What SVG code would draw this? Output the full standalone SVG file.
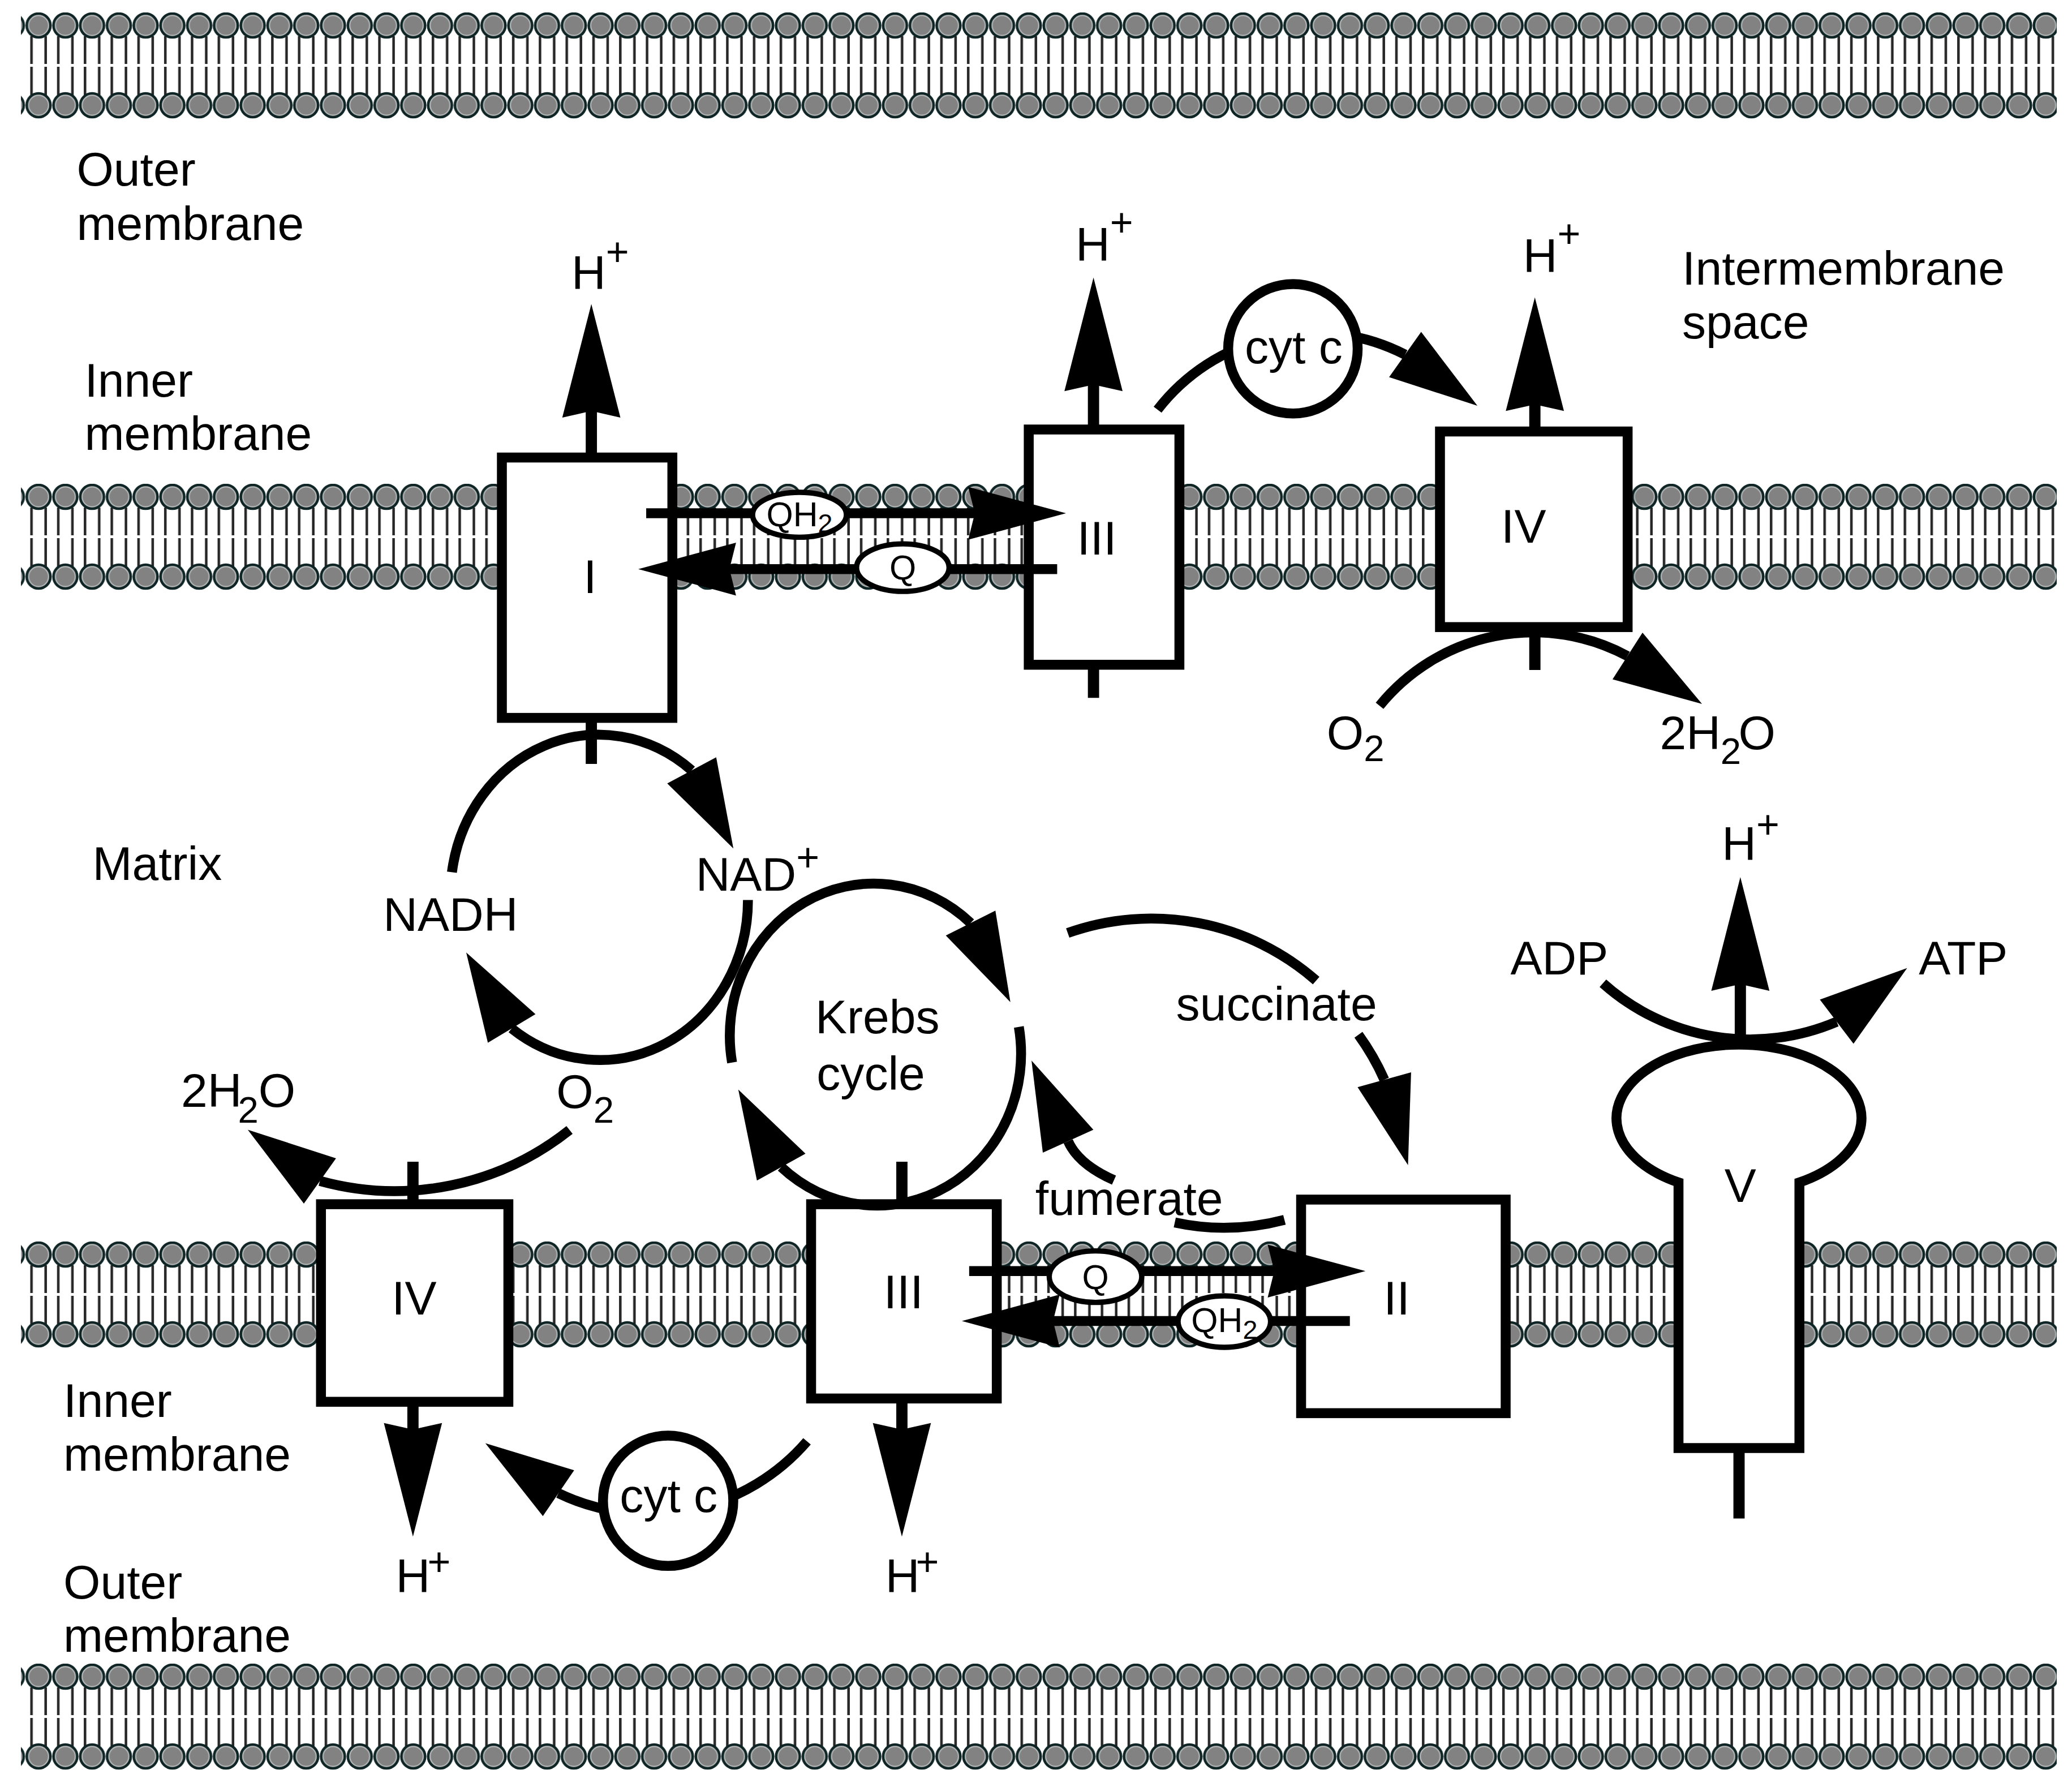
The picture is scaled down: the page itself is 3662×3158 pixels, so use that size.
<svg xmlns="http://www.w3.org/2000/svg" width="3662" height="3158" viewBox="0 0 3662 3158">
<defs>
<style>
.t{font-family:"Liberation Sans",Arial,sans-serif;font-size:36px;fill:#000}
.mid{text-anchor:middle}
.box{fill:#fff;stroke:#000;stroke-width:7.5}
.ln{fill:none;stroke:#000;stroke-width:7.5}
.stem{fill:none;stroke:#000;stroke-width:8.5}
.cyt{fill:#fff;stroke:#000;stroke-width:7.5}
.ell{fill:#fff;stroke:#000;stroke-width:4}
.hd{fill:#000}
.q{font-size:26px}
</style>
<pattern id="lipid" patternUnits="userSpaceOnUse" x="-2.75" y="0" width="47.3" height="200">
<g stroke="#262626" stroke-width="4.5">
<line x1="11.15" y1="42" x2="11.15" y2="91"/>
<line x1="36.15" y1="42" x2="36.15" y2="91"/>
<line x1="11.15" y1="96" x2="11.15" y2="146"/>
<line x1="36.15" y1="96" x2="36.15" y2="146"/>
</g>
<g fill="#828282" stroke="#0f2424" stroke-width="4.5">
<circle cx="23.65" cy="23" r="21"/>
<circle cx="23.65" cy="164" r="21"/>
</g>
<g fill="none" stroke="#b4b8b8" stroke-width="2">
<circle cx="23.65" cy="23" r="17.5"/>
<circle cx="23.65" cy="164" r="17.5"/>
</g>
</pattern>
<path id="hL" d="M0,0 L-86,-22 L-81,0 L-86,22 Z"/>
<path id="hM" d="M0,0 L-67,-21 L-67,21 Z"/>
<path id="hQ" d="M0,0 L-74,-20 L-69,0 L-74,20 Z"/>
</defs>
<rect x="0" y="0" width="3662" height="3158" fill="#fff"/>
<g id="membranes">
<rect x="37" y="0" width="3598" height="188" fill="url(#lipid)" transform="translate(0,22)"/>
<rect x="37" y="0" width="3598" height="188" fill="url(#lipid)" transform="translate(0,855)"/>
<rect x="37" y="0" width="3598" height="188" fill="url(#lipid)" transform="translate(0,2194)"/>
<rect x="37" y="0" width="3598" height="188" fill="url(#lipid)" transform="translate(0,2940)"/>
</g>
<g transform="scale(2.3355)">
<g id="complex-I"><rect class="box" x="379.8" y="346.2" width="129" height="197"/><text class="t mid" x="446.6" y="448.7">I</text></g>
<g id="complex-III-upper"><rect class="box" x="778.5" y="325" width="114" height="178"/><text class="t mid" x="830" y="419.4">III</text></g>
<g id="complex-IV-upper"><rect class="box" x="1089.7" y="326.5" width="142" height="148"/><text class="t mid" x="1153" y="410.8">IV</text></g>
<g id="complex-IV-lower"><rect class="box" x="242.9" y="911.2" width="141.8" height="149.5"/><text class="t mid" x="313.4" y="994.5">IV</text></g>
<g id="complex-III-lower"><rect class="box" x="613.8" y="911.2" width="140.5" height="147"/><text class="t mid" x="683.7" y="990">III</text></g>
<g id="complex-II"><rect class="box" x="984.6" y="907.7" width="154.8" height="161.6"/><text class="t mid" x="1057" y="994.7">II</text></g>
<g id="complex-V"><path class="box" d="M1270.2,1095.7 L1270.2,894.7 A92.7,55.8 0 1 1 1361.7,894.7 L1361.7,1095.7 Z"/><text class="t mid" x="1317" y="909.5">V</text></g>

<g id="connectors">
<path class="stem" d="M447.5,346 V308"/>
<use href="#hL" class="hd" transform="translate(447.5,230) rotate(-90)"/>
<path class="stem" d="M447.5,543 V578"/>
<path class="stem" d="M827.5,325 V288"/>
<use href="#hL" class="hd" transform="translate(827.5,210) rotate(-90)"/>
<path class="stem" d="M827.5,503 V528"/>
<path class="stem" d="M1161.5,326 V303"/>
<use href="#hL" class="hd" transform="translate(1161.5,225) rotate(-90)"/>
<path class="stem" d="M1161.5,474 V507"/>
<path class="stem" d="M1317,787 V742"/>
<use href="#hL" class="hd" transform="translate(1317,663.7) rotate(-90)"/>
<path class="stem" d="M1316,1096 V1149"/>
<path class="stem" d="M312.5,911 V879"/>
<path class="stem" d="M312.5,1061 V1085"/>
<use href="#hL" class="hd" transform="translate(312.5,1162.7) rotate(90)"/>
<path class="stem" d="M682.5,911 V879"/>
<path class="stem" d="M682.5,1058 V1085"/>
<use href="#hL" class="hd" transform="translate(682.5,1162.7) rotate(90)"/>

<path class="ln" d="M489,388.4 H740"/>
<use href="#hQ" class="hd" transform="translate(806.7,388.4)"/>
<path class="ln" d="M800,430.6 H550"/>
<use href="#hQ" class="hd" transform="translate(483,430.6) rotate(180)"/>
<path class="ln" d="M733.4,961.8 H965"/>
<use href="#hQ" class="hd" transform="translate(1033.3,961.8)"/>
<path class="ln" d="M1021.5,999.6 H795"/>
<use href="#hQ" class="hd" transform="translate(727.9,999.6) rotate(180)"/>

<path class="ln" d="M342,660 A112,121 0 0 1 523.4,582.9"/>
<use href="#hM" class="hd" transform="translate(555,642) rotate(61.9)"/>
<path class="ln" d="M566,681 A112,121 0 0 1 387.2,778.2"/>
<use href="#hM" class="hd" transform="translate(352.8,720.7) rotate(-120.9)"/>
<path class="ln" d="M554,804 A109,115 0 0 1 734.5,698.4"/>
<use href="#hM" class="hd" transform="translate(764.6,758.3) rotate(63.3)"/>
<path class="ln" d="M771,777 A109,115 0 0 1 591.2,883.1"/>
<use href="#hM" class="hd" transform="translate(558.7,824.5) rotate(-119)"/>
<path class="ln" d="M808,706 A189,189 0 0 1 996,742"/>
<path class="ln" d="M1028,783 A189,189 0 0 1 1047.6,817"/>
<use href="#hM" class="hd" transform="translate(1065.5,881.6) rotate(74.5)"/>
<path class="ln" d="M972,923 Q930,934 889,925"/>
<path class="ln" d="M843,893 Q816,881 808.3,863.5"/>
<use href="#hM" class="hd" transform="translate(780.6,802.5) rotate(-114.4)"/>
<path class="ln" d="M1213,744 A167,167 0 0 0 1389.9,773.1"/>
<use href="#hM" class="hd" transform="translate(1443.2,732.5) rotate(-37.3)"/>
<path class="ln" d="M876,310 A150,150 0 0 1 1063.3,268.3"/>
<use href="#hM" class="hd" transform="translate(1118,307) rotate(35.3)"/>
<path class="ln" d="M1044,534 A150,150 0 0 1 1231.6,496.4"/>
<use href="#hM" class="hd" transform="translate(1288,532.6) rotate(32.7)"/>
<path class="ln" d="M431,855 A212.5,212.5 0 0 1 242.1,893.6"/>
<use href="#hM" class="hd" transform="translate(187.5,854.8) rotate(-144.6)"/>
<path class="ln" d="M610.7,1090.6 A158,158 0 0 1 422.6,1129.9"/>
<use href="#hM" class="hd" transform="translate(367.3,1092.1) rotate(-145.7)"/>
</g>

<g id="cytc-upper"><circle class="cyt" cx="978.4" cy="263.9" r="49"/><text class="t mid" x="979" y="275">cyt c</text></g>
<g id="cytc-lower"><circle class="cyt" cx="505.6" cy="1135.6" r="49.3"/><text class="t mid" x="506" y="1144">cyt c</text></g>
<g id="qh2-upper"><ellipse class="ell" cx="605" cy="389.5" rx="35.5" ry="17"/><text class="t q mid" x="605" y="398">QH<tspan font-size="20" dy="5">2</tspan></text></g>
<g id="q-upper"><ellipse class="ell" cx="683.2" cy="429.5" rx="35" ry="18"/><text class="t q mid" x="683.2" y="438.5">Q</text></g>
<g id="q-lower"><ellipse class="ell" cx="829" cy="966" rx="35" ry="19.5"/><text class="t q mid" x="829" y="975.5">Q</text></g>
<g id="qh2-lower"><ellipse class="ell" cx="926.5" cy="1000" rx="35" ry="19.5"/><text class="t q mid" x="926.5" y="1008">QH<tspan font-size="20" dy="5">2</tspan></text></g>

<g id="labels">
<text class="t" x="58" y="140.5">Outer</text>
<text class="t" x="58" y="181.5">membrane</text>
<text class="t" x="64" y="300">Inner</text>
<text class="t" x="64" y="340.5">membrane</text>
<text class="t" x="1273" y="215.2">Intermembrane</text>
<text class="t" x="1273" y="256">space</text>
<text class="t" x="70" y="666">Matrix</text>
<text class="t" x="48" y="1072">Inner</text>
<text class="t" x="48" y="1113">membrane</text>
<text class="t" x="48" y="1209.5">Outer</text>
<text class="t" x="48" y="1250">membrane</text>
<text class="t" x="432.5" y="218.7">H<tspan font-size="30" dy="-18">+</tspan></text>
<text class="t" x="814" y="197.2">H<tspan font-size="30" dy="-18.5">+</tspan></text>
<text class="t" x="1152.5" y="205.8">H<tspan font-size="30" dy="-18.5">+</tspan></text>
<text class="t" x="1303" y="651">H<tspan font-size="30" dy="-17">+</tspan></text>
<text class="t" x="299.5" y="1204.7">H<tspan font-size="30" dx="-2" dy="-12.7">+</tspan></text>
<text class="t" x="670" y="1204.7">H<tspan font-size="30" dx="-3" dy="-12.7">+</tspan></text>
<text class="t" x="1004" y="567">O<tspan font-size="28" dy="9">2</tspan></text>
<text class="t" x="1256" y="567">2H<tspan font-size="28" dy="11">2</tspan><tspan dx="-2" dy="-11">O</tspan></text>
<text class="t" x="137" y="837.4">2H<tspan font-size="28" dx="-3" dy="12">2</tspan><tspan dy="-12">O</tspan></text>
<text class="t" x="421" y="838.3">O<tspan font-size="28" dy="11">2</tspan></text>
<text class="t" x="290" y="704.3">NADH</text>
<text class="t" x="526.5" y="674">NAD<tspan font-size="30" dy="-15">+</tspan></text>
<text class="t" x="617" y="781.7">Krebs</text>
<text class="t" x="618" y="824.5">cycle</text>
<text class="t" x="890" y="771.8">succinate</text>
<text class="t" x="783.5" y="919.3">fumerate</text>
<text class="t" x="1143" y="737.4">ADP</text>
<text class="t" x="1452" y="737.4">ATP</text>
</g>
</g>
</svg>
